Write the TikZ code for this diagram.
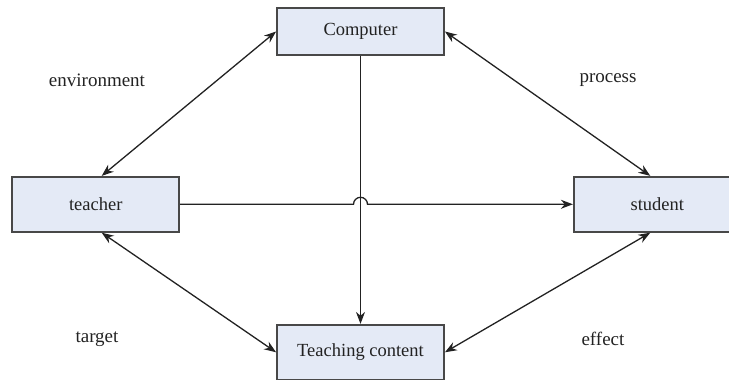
\documentclass[tikz,border=0pt]{standalone}
\usepackage{fontspec}
\setmainfont{Liberation Serif}
\usetikzlibrary{positioning,arrows.meta}
\definecolor{boxfill}{HTML}{E4EAF6}
\definecolor{boxline}{HTML}{484848}
\definecolor{inkgray}{HTML}{222222}

\begin{document}
\begin{tikzpicture}[x=1pt,y=1pt,
  box/.style={draw=boxline,fill=boxfill,line width=1.8pt,minimum width=167pt,
    minimum height=55pt,inner sep=0pt,text=inkgray,font=\fontsize{18.5}{22}\selectfont},
  tag/.style={text=inkgray,font=\fontsize{19}{22}\selectfont},
  link/.style={draw=inkgray,line width=1.3pt},
  arr/.style={link,-{Stealth[length=12pt,width=9pt]}},
  both/.style={link,{Stealth[length=12pt,width=9pt]}-{Stealth[length=12pt,width=9pt]}}]
  \useasboundingbox (0,0) rectangle (729,380);
  \clip (0,0) rectangle (729,380);
  \node[box,minimum height=47pt] (computer) at (360.5,348.5) {Computer};
  \node[box] (teacher) [below left=120pt and 96pt of computer] {teacher};
  \node[box] (student) [below right=120pt and 128pt of computer] {student};
  \node[box] (content) [below=268pt of computer] {Teaching content};

  \node[tag] (env) at (97,300) {environment};
  \node[tag] (proc) at (608,300) {process};
  \node[tag] (targ) at (97,41) {target};
  \node[tag] (eff) at (603,41) {effect};

  \draw[arr] (computer.south) -- (content.north);
  \draw[arr] (teacher.east) -- ([xshift=-7pt]computer.south |- teacher.east)
    arc[start angle=180,end angle=0,radius=7pt] -- (student.west);
  \draw[both] (computer.west) -- ([xshift=6pt]teacher.north);
  \draw[both] (computer.east) -- ([xshift=-7pt]student.north);
  \draw[both] ([xshift=6pt]teacher.south) -- (content.west);
  \draw[both] ([xshift=-7pt]student.south) -- (content.east);
\end{tikzpicture}
\end{document}
